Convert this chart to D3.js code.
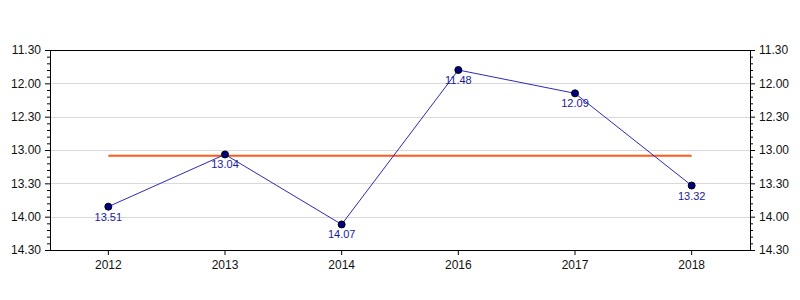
<!DOCTYPE html>
<html lang="en">
<head>
  <meta charset="UTF-8">
  <title>Times by year</title>
  <style>
    body { margin: 0; background: #fff; }
    svg { display: block; font-family: "Liberation Sans", Arial, sans-serif; }
    .axis text { font-size: 12px; fill: #111; }
    .axis path, .axis line { stroke: #000; }
    .grid line { stroke: #d9d9d9; }
    .label { font-size: 11px; fill: #1a1a99; }
  </style>
</head>
<body>
  <svg width="800" height="300"></svg>
  <script src="https://d3js.org/d3.v7.min.js"></script>
  <script>
// Data (times as min.sec)
const years = ['2012', '2013', '2014', '2016', '2017', '2018'];
const times = ['13.51', '13.04', '14.07', '11.48', '12.09', '13.32'];
const yTicks = ['11.30', '12.00', '12.30', '13.00', '13.30', '14.00', '14.30'];

// "13.51" -> seconds
const toSec = s => { const [m, sec] = s.split('.'); return +m * 60 + +sec; };
const secs = times.map(toSec);
const avg = d3.mean(secs);

const margin = { top: 50, right: 50, bottom: 50, left: 50 },
      width = 800 - margin.left - margin.right,
      height = 300 - margin.top - margin.bottom;

const svg = d3.select('svg')
  .append('g')
  .attr('transform', `translate(${margin.left},${margin.top})`);

const x = d3.scaleBand()
  .domain(years)
  .range([0, width]);

const y = d3.scaleLinear()
  .domain([toSec(yTicks[0]), toSec(yTicks[yTicks.length - 1])])
  .range([0, height]);

const cx = d => x(d) + x.bandwidth() / 2;

const majorVals = yTicks.map(toSec);
const minorVals = d3.range(y.domain()[0], y.domain()[1] + 1, 6).filter(v => !majorVals.includes(v));
const fmt = v => Math.floor(v / 60) + '.' + String(v % 60).padStart(2, '0');

// gridlines
svg.append('g')
  .attr('class', 'grid')
  .selectAll('line')
  .data(majorVals.slice(1, -1))
  .join('line')
  .attr('x1', 0).attr('x2', width)
  .attr('y1', d => Math.round(y(d)) + 0.5)
  .attr('y2', d => Math.round(y(d)) + 0.5);

// top border
svg.append('line')
  .attr('x1', 0).attr('x2', width)
  .attr('y1', 0.5).attr('y2', 0.5)
  .attr('stroke', '#000');

// x axis
svg.append('g')
  .attr('class', 'axis')
  .attr('transform', `translate(0,${height})`)
  .call(d3.axisBottom(x).tickSizeInner(5).tickSizeOuter(0).tickPadding(5))
  .call(g => g.select('.domain').attr('d', `M0,0.5H${width}`));

// y axes, major + minor
function yAxes(side, tx) {
  const major = side === 'left' ? d3.axisLeft(y) : d3.axisRight(y);
  const minor = side === 'left' ? d3.axisLeft(y) : d3.axisRight(y);
  svg.append('g')
    .attr('class', 'axis')
    .attr('transform', `translate(${tx},0)`)
    .call(minor.tickValues(minorVals).tickSize(3).tickSizeOuter(0).tickFormat(''));
  svg.append('g')
    .attr('class', 'axis')
    .attr('transform', `translate(${tx},0)`)
    .call(major.tickValues(majorVals).tickSize(5).tickSizeOuter(0).tickPadding(4).tickFormat(fmt));
}
yAxes('left', 0);
yAxes('right', width);

// average line
svg.append('line')
  .attr('x1', cx(years[0]))
  .attr('x2', cx(years[years.length - 1]))
  .attr('y1', y(avg)).attr('y2', y(avg))
  .attr('stroke', '#ff5a1a')
  .attr('stroke-width', 2);

// series line
svg.append('path')
  .datum(years.map((d, i) => [cx(d), y(secs[i])]))
  .attr('fill', 'none')
  .attr('stroke', '#2a2ab8')
  .attr('stroke-width', 1)
  .attr('d', d3.line());

// points
svg.selectAll('.dot')
  .data(years)
  .join('circle')
  .attr('class', 'dot')
  .attr('cx', d => cx(d))
  .attr('cy', (d, i) => y(secs[i]))
  .attr('r', 3.5)
  .attr('fill', '#000080')
  .attr('stroke', '#000')
  .attr('stroke-width', 1);

// value labels
svg.selectAll('.label')
  .data(years)
  .join('text')
  .attr('class', 'label')
  .attr('x', d => cx(d))
  .attr('y', (d, i) => y(secs[i]) + 14)
  .attr('text-anchor', 'middle')
  .text((d, i) => times[i]);
  </script>
</body>
</html>
